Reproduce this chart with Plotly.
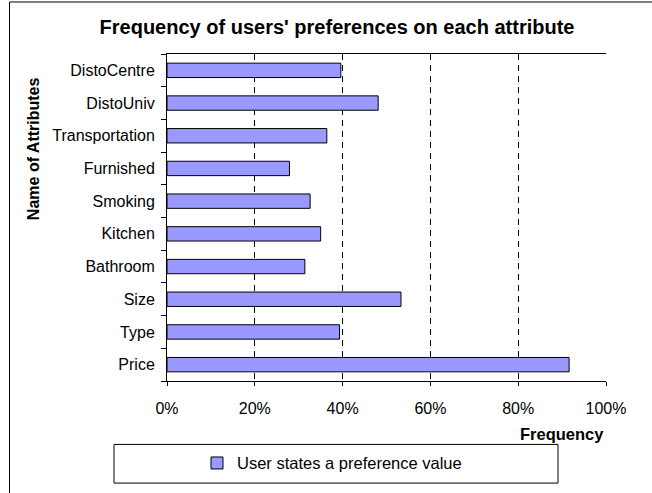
import plotly.graph_objects as go

categories = ["Price", "Type", "Size", "Bathroom", "Kitchen", "Smoking",
              "Furnished", "Transportation", "DistoUniv", "DistoCentre"]
values = [91.6, 39.3, 53.3, 31.4, 35.0, 32.6, 27.9, 36.4, 48.1, 39.6]
x_ticks = [0, 20, 40, 60, 80, 100]
x_tick_labels = ["0%", "20%", "40%", "60%", "80%", "100%"]
series_name = "User states a preference value"

FONT = "Liberation Sans, Arial, sans-serif"

fig = go.Figure()
fig.add_trace(go.Bar(
    y=categories, x=values, orientation="h", name=series_name,
    marker=dict(color="#9999FF", line=dict(color="#000000", width=1)),
    showlegend=True,
))

L, R, T, B = 167, 46, 54, 109
W, H = 652, 493
pw, ph = W - L - R, H - T - B

def px(xp):
    return (xp - L) / pw

def py(yp):
    return (H - B - yp) / ph

fig.update_layout(
    width=W, height=H,
    margin=dict(l=L, r=R, t=T, b=B),
    paper_bgcolor="white", plot_bgcolor="white",
    font=dict(family=FONT, size=16, color="black"),
    bargap=0.56,
    title=dict(text="<b>Frequency of users' preferences on each attribute</b>",
               x=337 / W, xanchor="center", y=1 - 27 / H, yanchor="middle",
               font=dict(size=20, family=FONT, color="black")),
    xaxis=dict(range=[0, 100], tickvals=x_ticks, ticktext=x_tick_labels,
               showgrid=True, gridcolor="black", griddash="6px,5px", gridwidth=1,
               showline=True, linecolor="black", linewidth=1, mirror=True,
               ticks="outside", ticklen=4, tickcolor="black",
               ticklabelstandoff=9,
               zeroline=False, tickfont=dict(size=16)),
    yaxis=dict(type="category", categoryorder="array", categoryarray=categories,
               showgrid=False, showline=True, linecolor="black", linewidth=1,
               ticks="outside", ticklen=5, tickcolor="black", tickson="boundaries",
               ticklabelstandoff=8, tickfont=dict(size=16)),
    legend=dict(orientation="h", x=px(197), xanchor="left", y=py(467), yanchor="middle",
                bgcolor="rgba(0,0,0,0)", font=dict(size=16.5), itemwidth=30),
    showlegend=True,
    shapes=[
        dict(type="rect", xref="paper", yref="paper",
             x0=px(9.5), x1=px(720), y0=py(1.5), y1=py(620),
             line=dict(color="black", width=1), fillcolor="rgba(0,0,0,0)", layer="below"),
        dict(type="rect", xref="paper", yref="paper",
             x0=px(114), x1=px(558), y0=py(448), y1=py(487),
             line=dict(color="black", width=1), fillcolor="rgba(0,0,0,0)"),
    ],
    annotations=[
        dict(text="<b>Name of Attributes</b>", textangle=-90, xref="paper", yref="paper",
             x=px(33), y=py(150), xanchor="center", yanchor="middle", showarrow=False,
             font=dict(size=16, family=FONT, color="black")),
        dict(text="<b>Frequency</b>", xref="paper", yref="paper",
             x=px(606), y=py(437), xanchor="right", yanchor="middle", showarrow=False,
             font=dict(size=16.5, family=FONT, color="black")),
    ],
)

fig.write_html("out.html")
